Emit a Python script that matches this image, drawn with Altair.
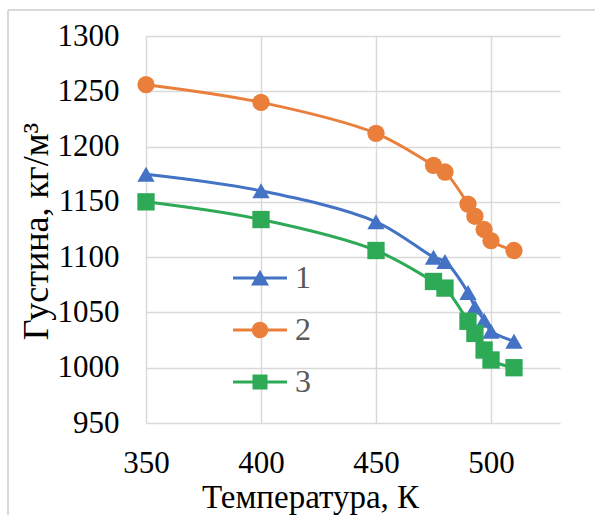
import altair as alt
import pandas as pd

# ---- data ----
temperature = [350, 400, 450, 475, 480, 490, 493, 497, 500, 510]
series_1 = [1175, 1160, 1132, 1100, 1096, 1068, 1055, 1043, 1033, 1024]
series_2 = [1256, 1240, 1212, 1183, 1177, 1148, 1137, 1125, 1115, 1106]
series_3 = [1150, 1134, 1106, 1078, 1072, 1042, 1031, 1016, 1007, 1000]
series_names = ["1", "2", "3"]
x_ticks = [350, 400, 450, 500]
y_ticks = [950, 1000, 1050, 1100, 1150, 1200, 1250, 1300]

colors = ["#4472C4", "#E97F3B", "#2EAA57"]
shapes = ["triangle-up", "circle", "square"]

rows = []
for name, vals in zip(series_names, [series_1, series_2, series_3]):
    for t, v in zip(temperature, vals):
        rows.append({"T": t, "rho": v, "series": name})
df = pd.DataFrame(rows)

FONT = "Liberation Serif, Times New Roman, serif"
GRID = "#D9D9D9"

# legend symbols: a line segment with the marker on it
line_part = "M-1.8,-0.1L1.8,-0.1L1.8,0.1L-1.8,0.1Z"
legend_paths = [
    line_part + "M-0.6,0.5L0,-0.55L0.6,0.5Z",
    line_part + "M-0.55,0A0.55,0.55 0 1,1 0.55,0A0.55,0.55 0 1,1 -0.55,0Z",
    line_part + "M-0.5,-0.5L0.5,-0.5L0.5,0.5L-0.5,0.5Z",
]

x_enc = alt.X(
    "T:Q",
    scale=alt.Scale(domain=[350, 530], nice=False, zero=False),
    axis=alt.Axis(
        values=x_ticks, title="Температура, К", format="d", labelFlush=False,
        labelFont=FONT, titleFont=FONT,
        labelFontSize=31, labelColor="black", labelPadding=25,
        titleFontSize=33, titleFontWeight="normal",
        titleColor="black", titleX=164, titleY=84, titleAlign="center",
        titleBaseline="alphabetic", titleAnchor="start",
    ),
)
y_enc = alt.Y(
    "rho:Q",
    scale=alt.Scale(domain=[950, 1300], nice=False, zero=False),
    axis=alt.Axis(
        values=y_ticks, title="Густина, кг/м³", format="d", labelFlush=False,
        labelFont=FONT, titleFont=FONT,
        labelFontSize=31, labelColor="black", labelPadding=27,
        titleFontSize=36, titleFontWeight="normal",
        titleColor="black", titleAngle=270, titleX=-99, titleY=195,
        titleAlign="center", titleBaseline="alphabetic", titleAnchor="start",
    ),
)

base = alt.Chart(df)

lines = base.mark_line(strokeWidth=3, interpolate="catmull-rom").encode(
    x=x_enc, y=y_enc,
    color=alt.Color("series:N", scale=alt.Scale(domain=series_names, range=colors), legend=None),
)

points = base.mark_point(filled=True, opacity=1, size=300).encode(
    x=x_enc, y=y_enc,
    color=alt.Color("series:N", scale=alt.Scale(domain=series_names, range=colors), legend=None),
    shape=alt.Shape("series:N", scale=alt.Scale(domain=series_names, range=shapes), legend=None),
)

leg = alt.Legend(
    orient="none", legendX=98, legendY=226, title=None, padding=0,
    labelFont=FONT, labelFontSize=32, labelColor="#595959",
    symbolSize=900, symbolStrokeWidth=0, symbolOpacity=1,
    labelOffset=19, rowPadding=20,
)
legend_layer = base.mark_point(filled=True, opacity=0, size=1).encode(
    x=x_enc, y=y_enc,
    color=alt.Color("series:N", scale=alt.Scale(domain=series_names, range=colors), legend=leg),
    shape=alt.Shape("series:N", scale=alt.Scale(domain=series_names, range=legend_paths), legend=leg),
)

# outer chart-area frame (top and left edges visible in the reference)
frame_top = base.mark_rule(color=GRID, strokeWidth=1.5).encode(
    x=alt.value(-138), x2=alt.value(460), y=alt.value(-26)
)
frame_left = base.mark_rule(color=GRID, strokeWidth=1.5).encode(
    x=alt.value(-138), y=alt.value(-26), y2=alt.value(490)
)

chart = (
    alt.layer(frame_top, frame_left, lines, points, legend_layer)
    .resolve_scale(color="independent", shape="independent")
    .properties(
        width=414, height=387,
        padding={"left": 146, "top": 36, "right": 35, "bottom": 92},
        autosize=alt.AutoSizeParams(type="none"),
        background="white",
    )
    .configure(font=FONT)
    .configure_view(stroke=None)
    .configure_axis(
        labelFont=FONT, titleFont=FONT, grid=True, gridColor=GRID, gridWidth=1.5,
        domain=False, ticks=False,
    )
    .configure_legend(labelFont=FONT)
)

chart.save("out.html", embed_options={"renderer": "svg", "actions": False})
